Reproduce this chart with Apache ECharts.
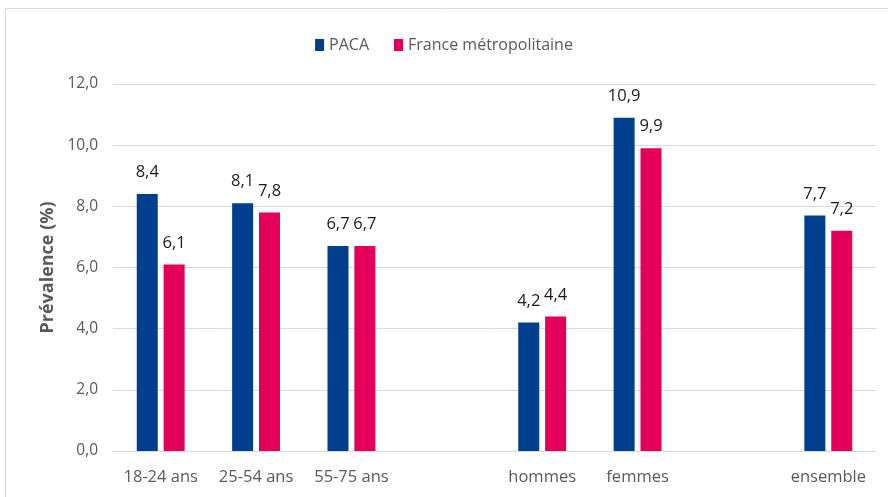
<!DOCTYPE html>
<html><head><meta charset="utf-8">
<script src="https://cdn.jsdelivr.net/npm/echarts@6/dist/echarts.min.js"></script>
<style>html,body{margin:0;padding:0;background:#fff}#c{width:888px;height:497px}</style>
</head><body><div id="c"></div>
<script>
const categories = ['18-24 ans', '25-54 ans', '55-75 ans', '', 'hommes', 'femmes', '', 'ensemble'];
const paca = [8.4, 8.1, 6.7, null, 4.2, 10.9, null, 7.7];
const france = [6.1, 7.8, 6.7, null, 4.4, 9.9, null, 7.2];
const seriesNames = ['PACA', 'France métropolitaine'];
const yTicks = { min: 0, max: 12, interval: 2 };

const fmt = v => v.toFixed(1).replace('.', ',');
const font = '"Open Sans", Lato, sans-serif';
const chart = echarts.init(document.getElementById('c'), null, { renderer: 'canvas' });
chart.setOption({
  animation: false,
  graphic: [{ type: 'rect', shape: { x: 5.5, y: 8.5, width: 900, height: 500 }, style: { fill: 'none', stroke: '#d9d9d9', lineWidth: 1 } }],
  legend: {
    top: 32, left: 'center', itemWidth: 9, itemHeight: 12, itemGap: 25, icon: 'rect',
    textStyle: { color: '#595959', fontSize: 16, fontFamily: font }
  },
  grid: { left: 113, right: 12, top: 84, bottom: 46, containLabel: false },
  xAxis: {
    type: 'category', data: categories,
    axisLine: { lineStyle: { color: '#d9d9d9', width: 1 } },
    axisTick: { show: false },
    axisLabel: { color: '#595959', fontSize: 16.5, fontFamily: font, margin: 18, interval: 0 }
  },
  yAxis: {
    type: 'value', min: yTicks.min, max: yTicks.max, interval: yTicks.interval,
    name: 'Prévalence (%)', nameLocation: 'middle', nameGap: 56, nameRotate: 90,
    nameTextStyle: { color: '#595959', fontSize: 18, fontWeight: 'bold', fontFamily: font },
    axisLine: { show: false }, axisTick: { show: false },
    splitLine: { lineStyle: { color: '#d9d9d9', width: 1 } },
    axisLabel: { color: '#595959', fontSize: 15.5, fontFamily: font, margin: 15, formatter: fmt }
  },
  series: [
    { name: seriesNames[0], type: 'bar', data: paca, barWidth: 21, barGap: '28%',
      itemStyle: { color: '#003F8E' },
      label: { show: true, position: 'top', distance: 13, color: '#1a1a1a', fontSize: 16.5, fontFamily: font, formatter: p => fmt(p.value) } },
    { name: seriesNames[1], type: 'bar', data: france, barWidth: 21,
      itemStyle: { color: '#E4005A' },
      label: { show: true, position: 'top', distance: 13, color: '#1a1a1a', fontSize: 16.5, fontFamily: font, formatter: p => fmt(p.value) } }
  ]
});
</script></body></html>
